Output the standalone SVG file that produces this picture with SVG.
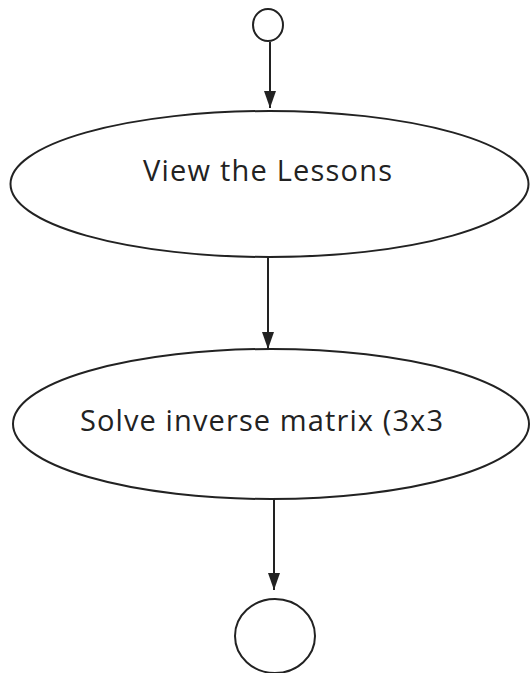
<svg xmlns="http://www.w3.org/2000/svg" width="530" height="673" viewBox="0 0 530 673">
<style>
.n{fill:#fff;stroke:#222;stroke-width:2}
.c{stroke:#222;stroke-width:2;fill:none}
.t{font-family:"Open Sans","Liberation Sans",sans-serif;font-size:29px;fill:#222}
</style>
<defs>
<marker id="ah" viewBox="0 0 17 12" refX="17" refY="6" markerWidth="17" markerHeight="12" markerUnits="userSpaceOnUse" orient="auto">
<path d="M0,0 L17,6 L0,12 Z" fill="#222"/>
</marker>
</defs>
<rect width="530" height="673" fill="#fff"/>
<g id="connectors">
<line class="c" x1="270" y1="42" x2="270" y2="108" marker-end="url(#ah)"/>
<line class="c" x1="268" y1="257" x2="268" y2="349" marker-end="url(#ah)"/>
<line class="c" x1="274" y1="499" x2="274" y2="590" marker-end="url(#ah)"/>
</g>
<g id="start">
<ellipse class="n" cx="268" cy="25" rx="15" ry="16"/>
</g>
<g id="view-lessons">
<ellipse class="n" cx="269.5" cy="184" rx="259" ry="73"/>
<text class="t" x="143" y="181" textLength="249" lengthAdjust="spacing">View the Lessons</text>
</g>
<g id="solve-inverse">
<ellipse class="n" cx="271" cy="424" rx="258" ry="75"/>
<text class="t" x="80" y="431" textLength="363" lengthAdjust="spacing">Solve inverse matrix (3x3</text>
</g>
<g id="end">
<ellipse class="n" cx="275" cy="636" rx="40" ry="37"/>
</g>
</svg>
